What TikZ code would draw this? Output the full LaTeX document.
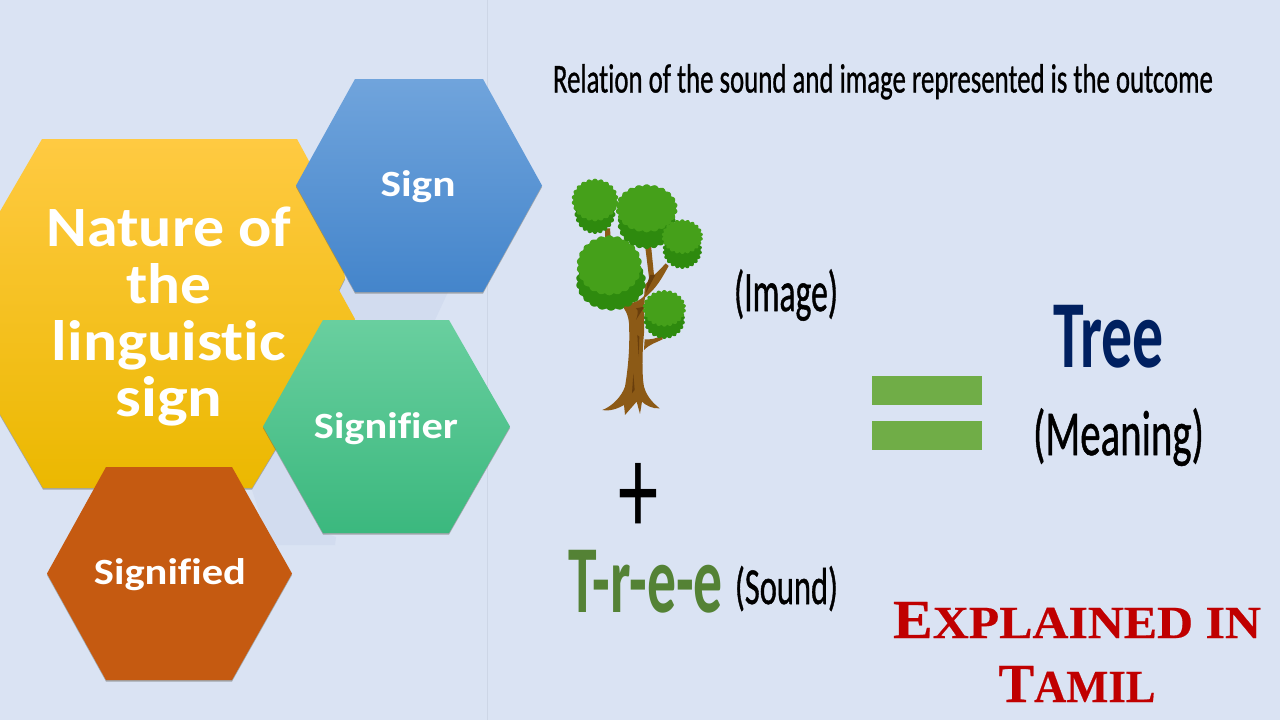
\documentclass[tikz,border=0pt]{standalone}
\usepackage{fontspec}
\setmainfont{Carlito}
\newfontfamily\medf[FakeBold=1.0,Ligatures=NoCommon]{Carlito}
\newfontfamily\boldf[Ligatures=NoCommon]{Carlito Bold}
\newfontfamily\plusf{Carlito}
\newfontfamily\engr[FakeBold=0.4]{Liberation Serif Bold}
\definecolor{bgc}{HTML}{DAE3F3}
\definecolor{linec}{HTML}{CDD6E6}
\definecolor{reflc}{HTML}{D2DCEF}
\definecolor{hexshadow}{HTML}{5A5A50}
\definecolor{ambertop}{HTML}{FFCA42}
\definecolor{ambermid}{HTML}{FFC000}
\definecolor{amberbot}{HTML}{EBB800}
\definecolor{bluetop}{HTML}{70A4DC}
\definecolor{bluemid}{HTML}{5796D8}
\definecolor{bluebot}{HTML}{4485CB}
\definecolor{greentop}{HTML}{69CF9F}
\definecolor{greenmid}{HTML}{4AC78D}
\definecolor{greenbot}{HTML}{3BB87E}
\definecolor{rustc}{HTML}{C55A11}
\definecolor{eqc}{HTML}{70AD47}
\definecolor{soundc}{HTML}{548235}
\definecolor{navyc}{HTML}{002060}
\definecolor{redc}{HTML}{C00000}
\definecolor{leafl}{HTML}{45A01A}
\definecolor{leafd}{HTML}{2E8A0E}
\definecolor{barkc}{HTML}{8C5A16}
\definecolor{barkd}{HTML}{693E0C}
\newcommand{\fitw}[2]{\resizebox{#1}{\height}{#2}}
% left, top-left, top-right, right, top, bottom
\newcommand{\hexpath}[6]{(#1,{(#5+#6)/2}) -- (#2,#5) -- (#3,#5) -- (#4,{(#5+#6)/2}) -- (#3,#6) -- (#2,#6) -- cycle}
\newcommand{\mainpath}{(-59,313) -- (42,139) -- (297,139) -- (330,200) -- (345,278) -- (339,290) -- (355,319) -- (320,380) -- (275,450) -- (252,488) -- (43,488) -- cycle}
% centre x, centre y, radius x, radius y, colour
\newcommand{\blob}[5]{\fill[#5] plot[domain=0:360,samples=181] ({#1+(#3-4+6*abs(sin(11*\x)))*cos(\x)},{#2+(#4-4+6*abs(sin(11*\x)))*sin(\x)}) -- cycle;}
\newcommand{\crown}[8]{\blob{#5}{#6}{#7}{#8}{leafd}\blob{#1}{#2}{#3}{#4}{leafl}}
\newcommand{\capsE}[2]{{\fontsize{#1}{#1}\selectfont #2}}
\tikzset{
  lbl/.style={inner sep=0pt,outer sep=0pt,anchor=base},
  hexshade/.style={fill=hexshadow,opacity=.45}
}
\begin{document}
\begin{tikzpicture}[x=1pt,y=-1pt]
\useasboundingbox (0,0) rectangle (1280,720);
\fill[bgc] (0,0) rectangle (1280,720);
\draw[linec,line width=1pt] (487,0) -- (487,720);
% faint reflections
\fill[reflc] (252,490) -- (275,450) -- (325,533) -- (336,537) -- (335,545) -- (270,545) -- cycle;
\fill[reflc] (339,290) -- (345,278) -- (360,292) -- (448,292) -- (435,320) -- (355,320) -- cycle;
% main hexagon
\begin{scope}[yshift=-1.5pt]
\fill[hexshade] \mainpath;
\end{scope}
\shade[top color=ambertop,middle color=ambermid,bottom color=amberbot] \mainpath;
% sign
\begin{scope}[yshift=-1.5pt]
\fill[hexshade] \hexpath{296}{355}{483}{542}{79}{292};
\end{scope}
\shade[top color=bluetop,middle color=bluemid,bottom color=bluebot] \hexpath{296}{355}{483}{542}{79}{292};
% signifier
\begin{scope}[yshift=-1.5pt]
\fill[hexshade] \hexpath{263}{323}{449}{510}{320}{533};
\end{scope}
\shade[top color=greentop,middle color=greenmid,bottom color=greenbot] \hexpath{263}{323}{449}{510}{320}{533};
% signified
\begin{scope}[yshift=-1.5pt]
\fill[hexshade] \hexpath{47}{106}{232}{292}{467}{680};
\end{scope}
\fill[rustc] \hexpath{47}{106}{232}{292}{467}{680};
% hexagon labels
\node[lbl,text=white] (nat1) at (169,246) {\fitw{245pt}{\fontsize{57}{57}\boldf Nature of}};
\node[lbl,text=white] (nat2) at (169,303) {\fitw{85pt}{\fontsize{57}{57}\boldf the}};
\node[lbl,text=white] (nat3) at (169,360) {\fitw{234pt}{\fontsize{57}{57}\boldf linguistic}};
\node[lbl,text=white] (nat4) at (169,416) {\fitw{107pt}{\fontsize{57}{57}\boldf sign}};
\node[lbl,text=white] (signl) at (418,196) {\fitw{75pt}{\fontsize{37}{37}\boldf Sign}};
\node[lbl,text=white] (signifierl) at (386,438) {\fitw{144pt}{\fontsize{37}{37}\boldf Signifier}};
\node[lbl,text=white] (signifiedl) at (170,584) {\fitw{152pt}{\fontsize{37}{37}\boldf Signified}};
% title
\node[lbl] (title) at (883,92.5) {\fitw{660pt}{\fontsize{41}{41}\medf Relation of the sound and image represented is the outcome}};
% tree
\begin{scope}[shift={(550,160)},x=0.3333pt,y=-0.3333pt]
  \fill[barkc] (165,205) -- (180,205) -- (182,232) -- (165,232) -- cycle;
  \fill[barkc] (285,255) -- (303,255) -- (312,345) -- (298,360) -- cycle;
  \fill[barkc] (347,310) -- (356,318) .. controls (335,355) and (320,385) .. (282,415) -- (285,375) .. controls (305,350) and (325,335) .. (347,310) -- cycle;
  \fill[barkc] (284,538) .. controls (300,540) and (320,535) .. (338,527) -- (338,538) .. controls (318,548) and (300,552) .. (282,570) -- cycle;
  \fill[barkc] (210,430) .. controls (225,425) and (255,440) .. (285,405) -- (283,440) -- (282,520)
     .. controls (276,580) and (276,650) .. (282,680)
     .. controls (290,710) and (310,730) .. (329,745)
     .. controls (310,748) and (285,735) .. (276,725) -- (270,762) -- (260,725) -- (225,765) -- (222,735)
     .. controls (205,745) and (180,755) .. (157,750)
     .. controls (185,740) and (215,710) .. (225,680)
     .. controls (235,620) and (240,560) .. (237,490)
     .. controls (235,465) and (225,445) .. (210,430) -- cycle;
  \fill[barkd] (258,445) .. controls (268,450) and (262,470) .. (258,480) -- (283,440) -- cycle;
  \fill[barkd] (250,640) -- (254,690) -- (246,700) -- cycle;
  \fill[barkd] (262,525) -- (268,530) -- (266,590) -- cycle;
  \fill[barkd] (300,345) -- (316,345) -- (288,398) -- (292,370) -- cycle;
  \crown{135}{120}{68}{62}{135}{155}{60}{65}
  \crown{178}{316}{96}{88}{183}{365}{103}{85}
  \crown{290}{145}{91}{70}{290}{190}{85}{75}
  \crown{397}{230}{60}{50}{397}{270}{57}{55}
  \crown{343}{445}{63}{53}{343}{480}{60}{55}
\end{scope}
% labels middle
\node[lbl] (imagel) at (786,311) {\fitw{104pt}{\fontsize{57}{57}\medf (Image)}};
\node[lbl] (plus) at (638,534) {\resizebox{40pt}{71pt}{\plusf +}};
\node[lbl,text=soundc] (treesound) at (645.5,612) {\fitw{155pt}{\fontsize{96}{96}\boldf T-r-e-e}};
\node[lbl] (soundl) at (786.5,604) {\fitw{103pt}{\fontsize{52}{52}\medf (Sound)}};
% equals
\fill[eqc] (872,376) rectangle (982,405);
\fill[eqc] (872,421) rectangle (982,450);
\node[lbl,text=navyc] (meaningword) at (1108.5,367) {\fitw{111pt}{\fontsize{96}{96}\boldf Tree}};
\node[lbl] (meaningl) at (1118.5,455) {\fitw{171pt}{\fontsize{64}{64}\medf (Meaning)}};
% explained
\node[lbl,text=redc] (expl) at (1077,638) {\fitw{368pt}{\engr\capsE{55}{E}\capsE{46}{XPLAINED IN}}};
\node[lbl,text=redc] (tamil) at (1077,702) {\fitw{157pt}{\engr\capsE{55}{T}\capsE{46}{AMIL}}};
\end{tikzpicture}
\end{document}
